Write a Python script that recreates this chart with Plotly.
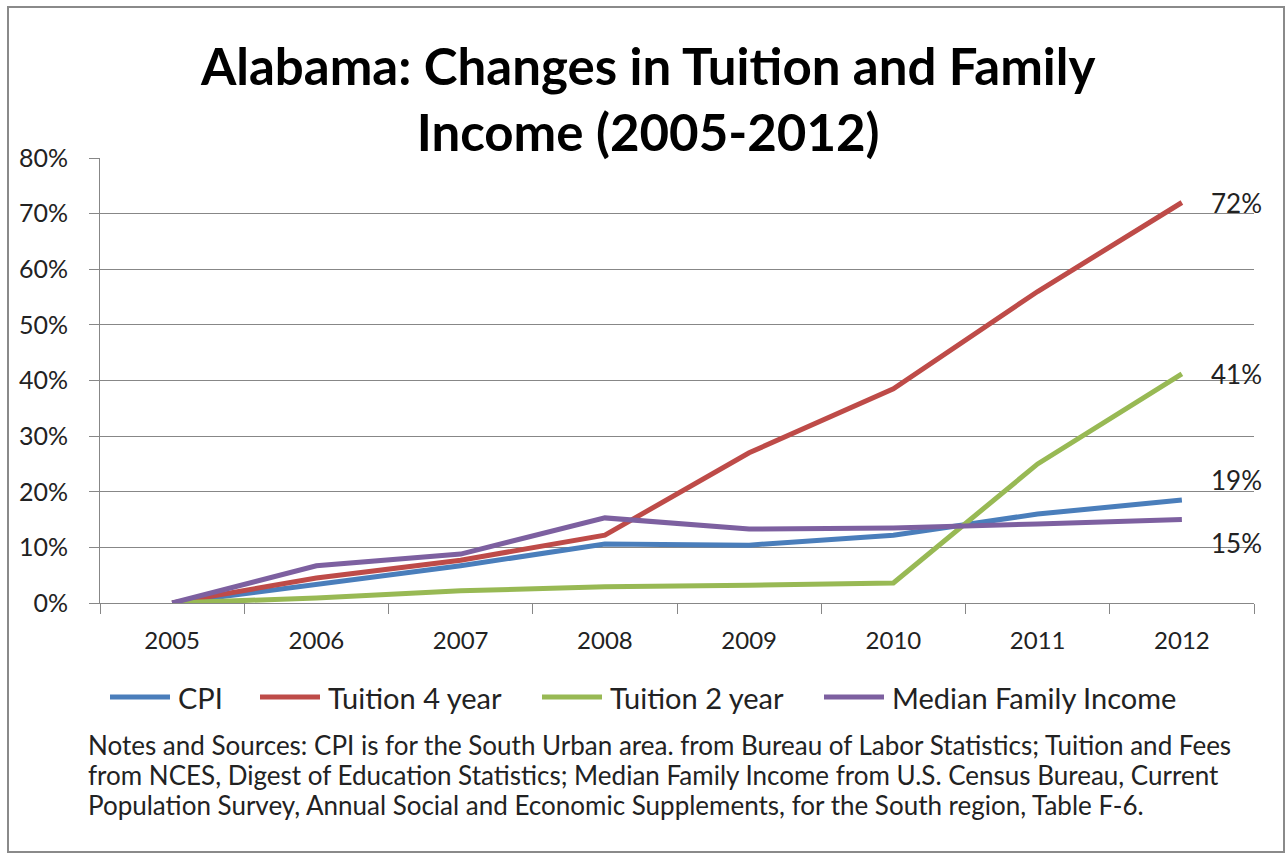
import plotly.graph_objects as go

years = ["2005", "2006", "2007", "2008", "2009", "2010", "2011", "2012"]
cpi = [0.0, 0.034, 0.067, 0.106, 0.104, 0.122, 0.160, 0.185]
tuition4 = [0.0, 0.045, 0.077, 0.122, 0.270, 0.385, 0.560, 0.720]
tuition2 = [0.0, 0.009, 0.022, 0.029, 0.032, 0.036, 0.250, 0.412]
median_income = [0.0, 0.067, 0.088, 0.153, 0.133, 0.135, 0.142, 0.150]
series_names = ["CPI", "Tuition 4 year", "Tuition 2 year", "Median Family Income"]
end_labels = ["19%", "72%", "41%", "15%"]

title_text = "Alabama: Changes in Tuition and Family<br>Income (2005-2012)"
notes_lines = [
    "Notes and Sources: CPI is for the South Urban area. from Bureau of Labor Statistics; Tuition and Fees",
    "from NCES, Digest of Education Statistics; Median Family Income from U.S. Census Bureau, Current",
    "Population Survey, Annual Social and Economic Supplements, for the South region, Table F-6.",
]

# ---- styling / layout ----
colors = ["#4A7EBB", "#BE4B48", "#98B954", "#7D60A0"]
label_yshift = [20, 0, 0, -23]
FONT = "Lato, 'Open Sans', sans-serif"
GRID = "#878787"
TXT = "#222"

# plot area in pixels (for converting layout positions into paper coords)
PL, PR, PT, PB = 100, 1254, 158, 603
def px_x(px):
    return (px - PL) / (PR - PL)
def px_y(py):
    return (PB - py) / (PB - PT)

legend_starts = [108, 258, 540, 822]   # pixel x where each legend swatch starts
legend_y = 697
swatch_len = 64
notes_y = [745, 775, 805]

all_series = [cpi, tuition4, tuition2, median_income]

fig = go.Figure()
for name, vals, col in zip(series_names, all_series, colors):
    fig.add_trace(go.Scatter(x=years, y=vals, name=name, mode="lines",
                             line=dict(color=col, width=5)))

last_idx = len(years) - 1
for vals, lab, ys in zip(all_series, end_labels, label_yshift):
    fig.add_annotation(x=last_idx, y=vals[-1], text=lab, showarrow=False,
                       xanchor="left", yanchor="middle", xshift=27, yshift=ys,
                       font=dict(family=FONT, size=26, color=TXT))

# custom legend
for name, col, sx in zip(series_names, colors, legend_starts):
    fig.add_shape(type="line", xref="paper", yref="paper",
                  x0=px_x(sx + 2), x1=px_x(sx + swatch_len - 2),
                  y0=px_y(legend_y), y1=px_y(legend_y),
                  line=dict(color=col, width=5))
    fig.add_annotation(xref="paper", yref="paper", x=px_x(sx + swatch_len + 4),
                       y=px_y(legend_y), xanchor="left", yanchor="middle",
                       showarrow=False, text=name,
                       font=dict(family=FONT, size=29, color=TXT))

# notes
for line, ny in zip(notes_lines, notes_y):
    fig.add_annotation(xref="paper", yref="paper", x=px_x(86), y=px_y(ny),
                       xanchor="left", yanchor="middle", align="left",
                       showarrow=False, text=line,
                       font=dict(family=FONT, size=26, color=TXT))

# outer frame
fig.add_shape(type="rect", xref="paper", yref="paper",
              x0=px_x(8), x1=px_x(1284), y0=px_y(852), y1=px_y(7),
              line=dict(color="#8a8a8a", width=2), layer="below")

fig.update_layout(
    width=1286, height=854,
    margin=dict(l=PL, r=1286 - PR, t=PT, b=854 - PB, autoexpand=False),
    paper_bgcolor="white", plot_bgcolor="white",
    title=dict(text="<b>" + title_text + "</b>", x=0.504, xref="container",
               xanchor="center", y=1 - 85 / 854, yref="container", yanchor="middle",
               font=dict(family=FONT, size=51, color="#000")),
    showlegend=False,
    xaxis=dict(type="category", range=[-0.5, len(years) - 0.5], autorange=False,
               tickson="boundaries", ticks="outside", ticklen=10, tickangle=0,
               tickcolor=GRID, showline=True, linecolor=GRID, linewidth=1,
               showgrid=False, tickfont=dict(family=FONT, size=24, color=TXT),
               ticklabelstandoff=16),
    yaxis=dict(range=[0, 0.8], dtick=0.1, tickformat=".0%", ticks="outside",
               ticklen=10, tickcolor=GRID, showline=True, linecolor=GRID,
               linewidth=1, showgrid=True, gridcolor=GRID, gridwidth=1,
               zeroline=False, tickfont=dict(family=FONT, size=25, color=TXT),
               ticklabelstandoff=16),
    hovermode=False,
)

fig.write_html("out.html")
